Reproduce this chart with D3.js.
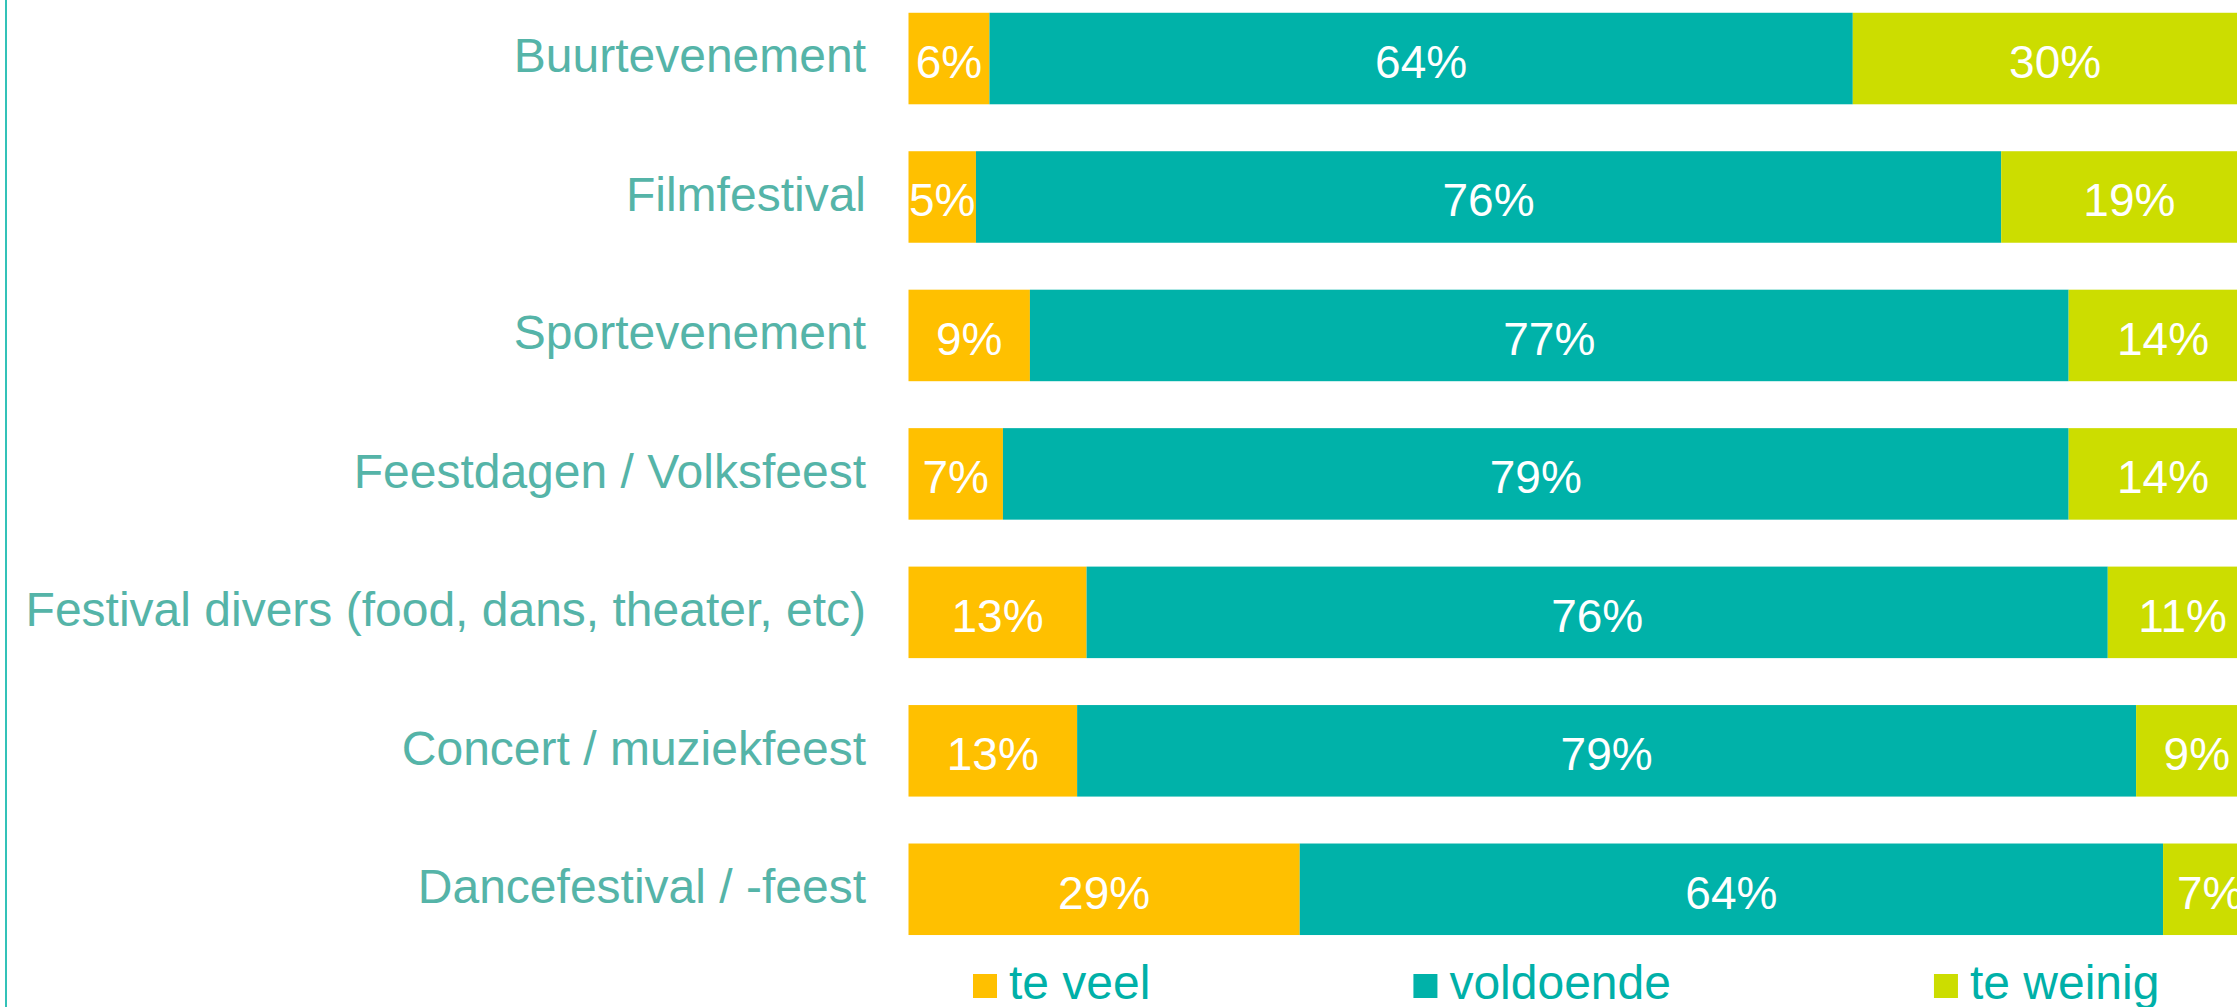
<!DOCTYPE html>
<html>
<head>
<meta charset="utf-8">
<script src="https://cdn.jsdelivr.net/npm/d3@7"></script>
<style>
  body { margin: 0; background: #fff; }
  svg { display: block; font-family: "Liberation Sans", Arial, sans-serif; }
</style>
</head>
<body>
<svg id="chart" width="2237" height="1007"></svg>
<script>
// categories, top to bottom
let categories = ["Buurtevenement", "Filmfestival", "Sportevenement", "Feestdagen / Volksfeest",
    "Festival divers (food, dans, theater, etc)", "Concert / muziekfeest", "Dancefestival / -feest"];
let series = ["te veel", "voldoende", "te weinig"];
// percentages per category
let teVeel    = [6, 5, 9, 7, 13.2, 12.5, 29];
let voldoende = [64, 76, 77, 79, 75.7, 78.5, 64];
let teWeinig  = [30, 19, 14, 14, 11.1, 9.0, 7];
let colors = ["#FFC000", "#00B2A9", "#CCDD00"];

var svg = d3.select("#chart");
var W = 2237, H = 1007;

let rows = categories.map(function (c, i) {
    return { cat: c, "te veel": teVeel[i], "voldoende": voldoende[i], "te weinig": teWeinig[i] };
});
let stacked = d3.stack().keys(series)(rows);

let xScale = d3.scaleLinear().domain([0, 100]).range([908.5, 2257.5]);
let yScale = d3.scaleBand()
    .domain(categories)
    .range([-10.7, 958.5])
    .paddingInner(0.339)
    .paddingOuter(0.1695);

// left border line
svg.append("line")
    .attr("x1", 6).attr("x2", 6)
    .attr("y1", 0).attr("y2", H)
    .attr("stroke", "#33C2B8")
    .attr("stroke-width", 2);

// bars
let layers = svg.selectAll(".layer")
    .data(stacked)
    .enter().append("g")
    .attr("class", "layer")
    .attr("fill", (d, i) => colors[i]);

layers.selectAll("rect")
    .data(d => d)
    .enter().append("rect")
    .attr("x", d => xScale(d[0]))
    .attr("y", d => yScale(d.data.cat))
    .attr("width", d => xScale(d[1]) - xScale(d[0]))
    .attr("height", yScale.bandwidth());

// value labels
layers.selectAll("text")
    .data(d => d)
    .enter().append("text")
    .attr("x", d => (xScale(d[0]) + xScale(d[1])) / 2)
    .attr("y", d => yScale(d.data.cat) + yScale.bandwidth() / 2)
    .attr("dy", "0.42em")
    .attr("text-anchor", "middle")
    .attr("fill", "#fff")
    .style("font-size", "46px")
    .text(d => Math.round(d[1] - d[0] + 1e-9) + "%");

// category labels
svg.append("g")
    .selectAll("text")
    .data(categories)
    .enter().append("text")
    .attr("x", 866)
    .attr("y", d => yScale(d) + yScale.bandwidth() / 2)
    .attr("dy", "0.29em")
    .attr("text-anchor", "end")
    .attr("fill", "#55B4A8")
    .style("font-size", "48px")
    .text(d => d);

// legend
let legend = svg.append("g").attr("transform", "translate(973,974)");
let lx = 0;
series.forEach(function (s, i) {
    let item = legend.append("g").attr("transform", "translate(" + lx + ",0)");
    item.append("rect")
        .attr("width", 24).attr("height", 24)
        .attr("fill", colors[i]);
    let t = item.append("text")
        .attr("x", 36).attr("y", 25)
        .attr("fill", "#00B0A8")
        .style("font-size", "48px")
        .text(s);
    lx += 36 + t.node().getComputedTextLength() + 263;
});
</script>
</body>
</html>
